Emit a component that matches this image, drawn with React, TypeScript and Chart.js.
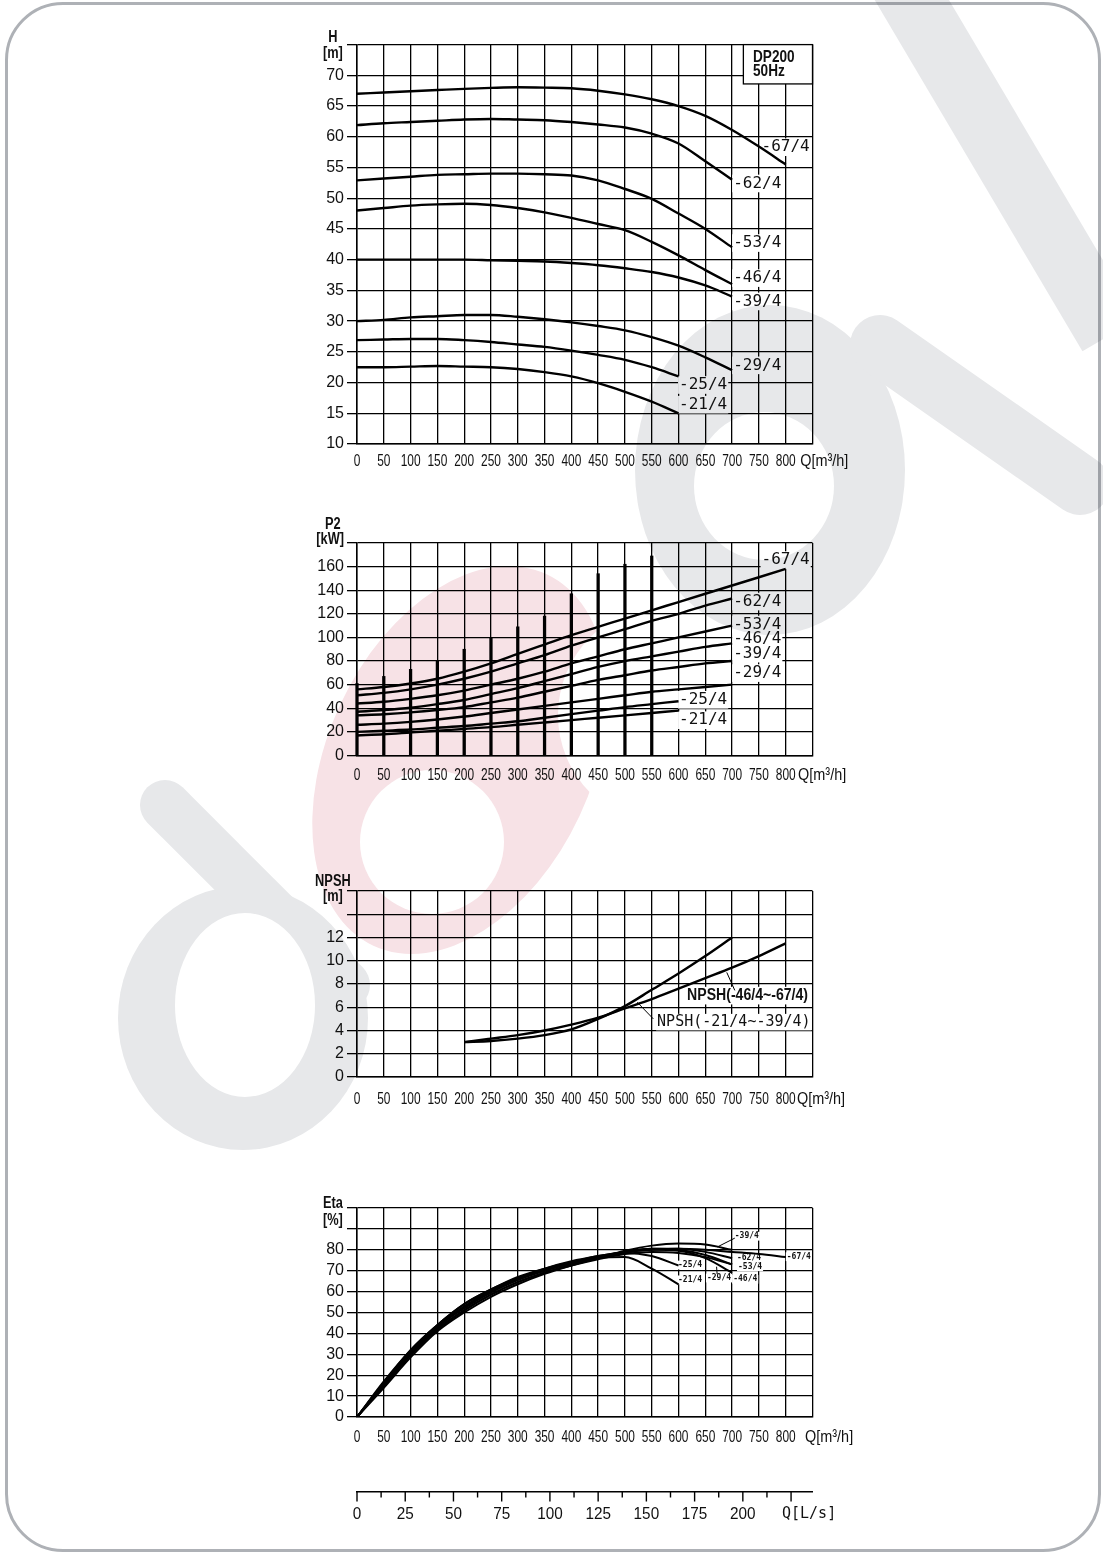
import React, { useEffect, useRef } from 'react';
import { Chart, registerables } from 'chart.js';

Chart.register(...registerables);

// ---------------- data ----------------
const flowQ = [0, 50, 100, 150, 200, 250, 300, 350, 400, 450, 500, 550, 600, 650, 700, 750, 800];
const seriesNames = ['-67/4', '-62/4', '-53/4', '-46/4', '-39/4', '-29/4', '-25/4', '-21/4'];

// Head H [m]
const head67 = [67, 67.2, 67.4, 67.6, 67.8, 67.95, 68.05, 68, 67.9, 67.5, 66.9, 66.1, 65, 63.4, 61.1, 58.4, 55.5];
const head62 = [61.9, 62.2, 62.4, 62.6, 62.8, 62.9, 62.8, 62.7, 62.4, 62, 61.5, 60.5, 58.9, 56, 53];
const head53 = [52.9, 53.2, 53.5, 53.8, 53.9, 54, 54, 53.9, 53.7, 52.9, 51.5, 49.9, 47.5, 45, 42];
const head46 = [48, 48.4, 48.8, 49, 49.1, 48.9, 48.4, 47.7, 46.8, 45.8, 44.8, 42.9, 40.7, 38.3, 36];
const head39 = [40, 40, 40, 40, 40, 39.9, 39.8, 39.7, 39.45, 39.1, 38.6, 38, 37.1, 35.8, 34];
const head29 = [30, 30.2, 30.6, 30.8, 31, 31, 30.7, 30.3, 29.8, 29.2, 28.5, 27.4, 26, 24.1, 22];
const head25 = [26.9, 27, 27.1, 27.1, 26.9, 26.6, 26.2, 25.8, 25.2, 24.5, 23.7, 22.5, 21];
const head21 = [22.5, 22.5, 22.6, 22.7, 22.6, 22.5, 22.2, 21.7, 21, 19.9, 18.5, 16.9, 15];

// Power P2 [kW]
const p2_67 = [56, 58, 61, 65, 71, 78, 86, 94, 102, 109, 116, 123, 130, 137, 144, 151, 158];
const p2_62 = [51, 53, 56, 60, 65, 71, 78, 85, 93, 100, 107, 114, 120, 127, 133];
const p2_53 = [44, 45.5, 48, 51, 55, 60, 65, 71, 78, 84, 90, 95, 100, 105, 110];
const p2_46 = [37, 38.5, 40.5, 43.5, 47, 52, 57, 63, 69, 75, 80, 84, 88, 92, 95];
const p2_39 = [34, 35, 36.5, 38.5, 41, 45, 49, 54, 59, 64, 68, 72, 75, 78, 80];
const p2_29 = [26, 27, 28.5, 30.5, 33, 36, 39, 42, 45, 48, 51, 54, 56, 58, 60];
const p2_25 = [20, 21, 22, 23.5, 25, 27, 29, 32, 35, 38, 41, 43.5, 46];
const p2_21 = [17, 18, 19.5, 21, 22.5, 24, 26, 28, 30, 32, 34, 36, 38];
const p2Bars = [61, 67, 73, 80, 90, 100, 109, 118, 137, 154, 162, 169];

// NPSH [m] (from Q = 200)
const npshStartIndex = 4;
const npshHigh = [3, 3.3, 3.6, 4.0, 4.5, 5.1, 5.9, 6.7, 7.6, 8.5, 9.4, 10.4, 11.5];
const npshLow = [3, 3.1, 3.3, 3.6, 4.1, 5.0, 6.1, 7.5, 8.9, 10.4, 12];
const npshNames = ['NPSH(-46/4~-67/4)', 'NPSH(-21/4~-39/4)'];

// Efficiency Eta [%]
const eta67 = [0, 16.5, 32, 44, 54, 61, 66.5, 71, 74.5, 77, 79, 80, 80.5, 80, 79, 78, 76.5];
const eta62 = [0, 16, 31, 43.5, 53, 60.5, 66, 70.5, 74, 77, 79, 80.5, 80.5, 79, 76];
const eta53 = [0, 15.5, 30.5, 43, 52, 59.5, 65.5, 70, 73.5, 76.5, 79, 80.5, 80, 77.5, 73];
const eta46 = [0, 15, 30, 42, 51, 58.5, 64.5, 69, 73, 76, 78.5, 80, 79.5, 76, 69];
const eta39 = [0, 14, 28.5, 41, 50, 57.5, 63.5, 68.5, 72.5, 76, 79.5, 82, 83, 82.5, 80];
const eta29 = [0, 15, 29.5, 42, 51, 58.5, 64.5, 69, 72.5, 75.5, 78, 79, 78.5, 76.5, 73];
const eta25 = [0, 16, 31, 43, 52.5, 60, 66, 70, 73.5, 76.5, 78.5, 77, 72.5];
const eta21 = [0, 17, 32, 44, 54, 61, 67, 71, 74, 76, 76.5, 71, 63.5];

// Secondary flow axis [L/s]
const lpsMax = 236.11;
const lpsTicks = [0, 12.5, 25, 37.5, 50, 62.5, 75, 87.5, 100, 112.5, 125, 137.5, 150, 162.5, 175, 187.5, 200, 212.5, 225];
const lpsLabels = [0, 25, 50, 75, 100, 125, 150, 175, 200];

// ---------------- layout / annotation placement ----------------
const CANVAS_LEFT = 280;
const CANVAS_W = 600;
const Y_AXIS_W = 77;
const PAD_RIGHT = 67.5;

const geoH = { top: 18, areaTop: 44.6, areaBottom: 444 };
const geoP = { top: 510, areaTop: 543, areaBottom: 755.5 };
const geoN = { top: 858, areaTop: 891, areaBottom: 1077 };
const geoE = { top: 1180, areaTop: 1208, areaBottom: 1417 };
const geoL = { top: 1480, areaTop: 1490.5, areaBottom: 1491.5 };

const headLabelPos = [[755, 58.3], [702, 52.4], [702, 42.7], [702, 37.0], [702, 33.2], [702, 22.8], [601, 19.6], [601, 16.4]];
const p2LabelPos = [[755, 165.5], [702, 130.4], [702, 110.9], [702, 99.2], [702, 86.3], [702, 69.8], [601, 47.2], [601, 29.9]];
const etaLabelPos = [[802, 76.7], [709, 76.2], [711, 71.9], [702, 65.9], [705, 86.5], [653, 66.5], [599, 72.7], [599, 65.6]];

const SANS = "'Liberation Sans', Arial, sans-serif";
const MONO = "'DejaVu Sans Mono', monospace";
const INK = '#111';

const LABEL_FONT = `16px ${MONO}`;
const TITLE_FONT = `bold 16px ${SANS}`;
const TITLE_SX = 0.8;
const XTICK_FONT = `17px ${SANS}`;
const XTICK_SX = 0.7;
const Q_FONT = `17px ${SANS}`;
const Q_SX = 0.85;
const ETA_LABEL_FONT = `bold 8px ${MONO}`;

type Txt = { text: string; x: number; y?: number; dy?: number; font: string; align?: CanvasTextAlign; bg?: boolean; sx?: number };
type Seg = { x1: number; y1: number; x2: number; y2: number };
type Box = { x1: number; y1: number; x2: number; y2: number };
type XLabels = { values?: number[]; maxValue?: number; font: string; sx: number; dy: number };
type Overlay = { labels?: Txt[]; texts?: Txt[]; segs?: Seg[]; boxes?: Box[]; tickMarks?: { v: number; len: number }[]; xLabels?: XLabels };

function makeOverlay(cfg: Overlay) {
  const drawText = (chart: any, t: Txt) => {
    const ctx = chart.ctx;
    const X = chart.scales.x.getPixelForValue(t.x);
    const Y = t.y !== undefined ? chart.scales.y.getPixelForValue(t.y) : chart.chartArea.bottom + (t.dy ?? 0);
    const sx = t.sx ?? 1;
    ctx.save();
    ctx.font = t.font;
    ctx.textAlign = t.align ?? 'left';
    ctx.textBaseline = 'middle';
    ctx.translate(X, Y);
    ctx.scale(sx, 1);
    if (t.bg) {
      const w = ctx.measureText(t.text).width;
      const m = t.font.match(/(\d+(?:\.\d+)?)px/);
      const fs = m ? parseFloat(m[1]) : 12;
      const left = t.align === 'center' ? -w / 2 : t.align === 'right' ? -w : 0;
      ctx.fillStyle = '#fff';
      ctx.fillRect(left - 1, -fs * 0.55, w + 2, fs * 1.1);
    }
    ctx.fillStyle = INK;
    ctx.fillText(t.text, 0, 0);
    ctx.restore();
  };
  return {
    id: 'overlay',
    beforeDatasetsDraw(chart: any) {
      const ctx = chart.ctx;
      const xs = chart.scales.x;
      const ys = chart.scales.y;
      (cfg.boxes || []).forEach((b) => {
        const x1 = xs.getPixelForValue(b.x1);
        const x2 = xs.getPixelForValue(b.x2);
        const y1 = ys.getPixelForValue(b.y1);
        const y2 = ys.getPixelForValue(b.y2);
        ctx.save();
        ctx.fillStyle = '#fff';
        ctx.fillRect(x1, y1, x2 - x1, y2 - y1);
        ctx.strokeStyle = '#000';
        ctx.lineWidth = 1.3;
        ctx.strokeRect(x1, y1, x2 - x1, y2 - y1);
        ctx.restore();
      });
      (cfg.labels || []).forEach((t) => drawText(chart, t));
    },
    afterDraw(chart: any) {
      const ctx = chart.ctx;
      const xs = chart.scales.x;
      const ys = chart.scales.y;
      (cfg.segs || []).forEach((s) => {
        ctx.save();
        ctx.strokeStyle = '#000';
        ctx.lineWidth = 1;
        ctx.beginPath();
        ctx.moveTo(xs.getPixelForValue(s.x1), ys.getPixelForValue(s.y1));
        ctx.lineTo(xs.getPixelForValue(s.x2), ys.getPixelForValue(s.y2));
        ctx.stroke();
        ctx.restore();
      });
      (cfg.tickMarks || []).forEach((tm) => {
        const X = xs.getPixelForValue(tm.v);
        const B = chart.chartArea.bottom;
        ctx.save();
        ctx.strokeStyle = '#000';
        ctx.lineWidth = 1.4;
        ctx.beginPath();
        ctx.moveTo(X, B);
        ctx.lineTo(X, B + tm.len);
        ctx.stroke();
        ctx.restore();
      });
      if (cfg.xLabels) {
        const xl = cfg.xLabels;
        const vals: number[] = xl.values ?? xs.ticks.map((t: any) => t.value).filter((v: number) => v <= (xl.maxValue ?? Infinity));
        vals.forEach((v) =>
          drawText(chart, { text: String(v), x: v, dy: xl.dy, font: xl.font, sx: xl.sx, align: 'center' })
        );
      }
      (cfg.texts || []).forEach((t) => drawText(chart, t));
    },
  };
}

const pts = (vals: number[], start = 0) => vals.map((v, i) => ({ x: flowQ[start + i], y: v }));
const lineDs = (vals: number[], start = 0, width = 2.2) => ({
  type: 'line',
  data: pts(vals, start),
  borderColor: '#000',
  borderWidth: width,
  pointRadius: 0,
  fill: false,
  cubicInterpolationMode: 'monotone',
});

const canvasHeight = (g: any) => Math.ceil(g.areaBottom - g.top + 38);

function buildConfig(g: any, y: { min: number; max: number; step: number; labelMax: number }, xLabelDy: number, datasets: any[], overlay: Overlay) {
  const height = canvasHeight(g);
  const xAxisH = g.top + height - g.areaBottom;
  return {
    type: 'line',
    data: { datasets },
    options: {
      responsive: false,
      maintainAspectRatio: false,
      animation: false,
      events: [],
      layout: { padding: { left: 0, right: PAD_RIGHT, top: g.areaTop - g.top, bottom: 0 } },
      plugins: { legend: { display: false }, tooltip: { enabled: false } },
      scales: {
        x: {
          type: 'linear',
          min: 0,
          max: 850,
          offset: false,
          ticks: { stepSize: 50, autoSkip: false, maxRotation: 0, display: false },
          grid: { color: '#000', lineWidth: 1.3, drawTicks: false, offset: false },
          border: { color: '#000', width: 1.5 },
          afterFit: (s: any) => {
            s.height = xAxisH;
          },
        },
        y: {
          type: 'linear',
          min: y.min,
          max: y.max,
          ticks: {
            stepSize: y.step,
            autoSkip: false,
            padding: 3,
            color: INK,
            font: { family: SANS, size: 16 },
            callback: (v: any) => (v <= y.labelMax ? String(v) : ''),
          },
          grid: { color: '#000', lineWidth: 1.3, drawTicks: true, tickLength: 10 },
          border: { color: '#000', width: 1.5 },
          afterFit: (s: any) => {
            s.width = Y_AXIS_W;
          },
        },
      },
    },
    plugins: [
      makeOverlay({
        ...overlay,
        xLabels: { maxValue: 800, font: XTICK_FONT, sx: XTICK_SX, dy: xLabelDy },
      }),
    ],
  };
}

const seriesLabels = (pos: number[][], font: string): Txt[] =>
  seriesNames.map((n, i) => ({ text: n, x: pos[i][0], y: pos[i][1], font, bg: true }));

function ChartBox({ geo, make }: { geo: any; make: () => any }) {
  const ref = useRef<HTMLCanvasElement>(null);
  const h = canvasHeight(geo);
  useEffect(() => {
    const chart = new Chart(ref.current as HTMLCanvasElement, make());
    return () => chart.destroy();
  }, []);
  return (
    <canvas
      ref={ref}
      width={CANVAS_W}
      height={h}
      style={{ position: 'absolute', left: CANVAS_LEFT, top: geo.top, width: CANVAS_W, height: h }}
    />
  );
}

const makeHead = () =>
  buildConfig(
    geoH,
    { min: 10, max: 75, step: 5, labelMax: 70 },
    17.5,
    [head67, head62, head53, head46, head39, head29, head25, head21].map((a) => lineDs(a, 0, 2.4)),
    {
      boxes: [{ x1: 721, x2: 850, y1: 75, y2: 68.6 }],
      labels: seriesLabels(headLabelPos, LABEL_FONT),
      texts: [
        { text: 'DP200', x: 739, y: 72.9, font: `bold 17px ${SANS}`, sx: 0.8 },
        { text: '50Hz', x: 739, y: 70.6, font: `bold 17px ${SANS}`, sx: 0.8 },
        { text: 'H', x: -45, y: 76.2, font: TITLE_FONT, align: 'center', sx: TITLE_SX },
        { text: '[m]', x: -45, y: 73.6, font: TITLE_FONT, align: 'center', sx: TITLE_SX },
        { text: 'Q[m³/h]', x: 827, dy: 17.5, font: Q_FONT, sx: Q_SX },
      ],
    }
  );

const makePower = () =>
  buildConfig(
    geoP,
    { min: 0, max: 180, step: 20, labelMax: 160 },
    20,
    [
      {
        type: 'bar',
        data: p2Bars.map((v, i) => ({ x: flowQ[i], y: v })),
        backgroundColor: '#000',
        borderWidth: 0,
        barThickness: 2.6,
        clip: false,
      },
      ...[p2_67, p2_62, p2_53, p2_46, p2_39, p2_29, p2_25, p2_21].map((a) => lineDs(a, 0, 2.4)),
    ],
    {
      labels: seriesLabels(p2LabelPos, LABEL_FONT),
      texts: [
        { text: 'P2', x: -45, y: 196, font: TITLE_FONT, align: 'center', sx: TITLE_SX },
        { text: '[kW]', x: -50, y: 182.5, font: TITLE_FONT, align: 'center', sx: TITLE_SX },
        { text: 'Q[m³/h]', x: 823, dy: 20, font: Q_FONT, sx: Q_SX },
      ],
    }
  );

const makeNpsh = () =>
  buildConfig(
    geoN,
    { min: 0, max: 16, step: 2, labelMax: 12 },
    22,
    [lineDs(npshHigh, npshStartIndex, 2.4), lineDs(npshLow, npshStartIndex, 2.4)],
    {
      labels: [
        { text: npshNames[0], x: 616, y: 7.0, font: `bold 16px ${SANS}`, bg: true, sx: 0.88 },
        { text: npshNames[1], x: 560, y: 4.72, font: `15px ${MONO}`, bg: true },
      ],
      segs: [
        { x1: 690, y1: 9.0, x2: 705, y2: 7.45 },
        { x1: 523, y1: 6.43, x2: 553, y2: 5.0 },
      ],
      texts: [
        { text: 'NPSH', x: -45, y: 16.77, font: TITLE_FONT, align: 'center', sx: TITLE_SX },
        { text: '[m]', x: -45, y: 15.48, font: TITLE_FONT, align: 'center', sx: TITLE_SX },
        { text: 'Q[m³/h]', x: 821, dy: 22, font: Q_FONT, sx: Q_SX },
      ],
    }
  );

const makeEta = () =>
  buildConfig(
    geoE,
    { min: 0, max: 100, step: 10, labelMax: 80 },
    20.5,
    [eta67, eta62, eta53, eta46, eta39, eta29, eta25, eta21].map((a) => lineDs(a, 0, 2)),
    {
      labels: seriesLabels(etaLabelPos, ETA_LABEL_FONT),
      segs: [
        { x1: 672, y1: 81.3, x2: 705, y2: 85.6 },
        { x1: 671, y1: 71.9, x2: 672, y2: 68.4 },
      ],
      texts: [
        { text: 'Eta', x: -45, y: 101.9, font: TITLE_FONT, align: 'center', sx: TITLE_SX },
        { text: '[%]', x: -45, y: 93.8, font: TITLE_FONT, align: 'center', sx: TITLE_SX },
        { text: 'Q[m³/h]', x: 836, dy: 20.5, font: Q_FONT, sx: Q_SX },
      ],
    }
  );

const makeLps = () => {
  const h = canvasHeight(geoL);
  const xAxisH = geoL.top + h - geoL.areaBottom;
  return {
    type: 'line',
    data: { datasets: [] },
    options: {
      responsive: false,
      maintainAspectRatio: false,
      animation: false,
      events: [],
      layout: { padding: { left: Y_AXIS_W, right: PAD_RIGHT, top: geoL.areaTop - geoL.top, bottom: 0 } },
      plugins: { legend: { display: false }, tooltip: { enabled: false } },
      scales: {
        x: {
          type: 'linear',
          min: 0,
          max: lpsMax,
          ticks: { stepSize: 12.5, autoSkip: false, maxRotation: 0, display: false },
          grid: { display: false },
          border: { display: true, color: '#000', width: 1.5 },
          afterFit: (s: any) => {
            s.height = xAxisH;
          },
        },
        y: { display: false, min: 0, max: 1 },
      },
    },
    plugins: [
      makeOverlay({
        tickMarks: lpsTicks.map((v) => ({ v, len: v % 25 === 0 ? 10 : 6 })),
        xLabels: { values: lpsLabels, font: `17px ${SANS}`, sx: 0.9, dy: 22.5 },
        texts: [{ text: 'Q[L/s]', x: 220.3, dy: 22.5, font: `15px ${MONO}` }],
      }),
    ],
  };
};

function Watermark() {
  const grey = '#e7e8ea';
  return (
    <svg
      width={1103}
      height={1554}
      style={{ position: 'absolute', left: 0, top: 0, mixBlendMode: 'multiply', pointerEvents: 'none' }}
    >
      <ellipse cx={460} cy={760} rx={132} ry={205} transform="rotate(25 460 760)" fill="#f7e2e6" />
      <circle cx={668} cy={715} r={110} fill="#fff" />
      <circle cx={432} cy={842} r={72} fill="#fff" />
      <ellipse cx={243} cy={1018} rx={125} ry={132} fill={grey} />
      <line x1={165} y1={805} x2={345} y2={985} stroke={grey} strokeWidth={50} strokeLinecap="round" />
      <ellipse cx={245} cy={1005} rx={70} ry={92} fill="#fff" />
      <ellipse cx={770} cy={470} rx={135} ry={165} fill={grey} />
      <ellipse cx={764} cy={486} rx={70} ry={74} fill="#fff" />
      <line x1={900} y1={-20} x2={1110} y2={335} stroke={grey} strokeWidth={64} />
      <line x1={880} y1={345} x2={1080} y2={485} stroke={grey} strokeWidth={60} strokeLinecap="round" />
    </svg>
  );
}

export default function App() {
  return (
    <div
      style={{
        position: 'absolute',
        left: 0,
        top: 0,
        width: 1103,
        height: 1554,
        background: '#fff',
        overflow: 'hidden',
      }}
    >
      <div
        style={{
          position: 'absolute',
          left: 5,
          top: 2,
          width: 1096,
          height: 1550,
          boxSizing: 'border-box',
          border: '3px solid #aeb1b6',
          borderRadius: 58,
        }}
      />
      <ChartBox geo={geoH} make={makeHead} />
      <ChartBox geo={geoP} make={makePower} />
      <ChartBox geo={geoN} make={makeNpsh} />
      <ChartBox geo={geoE} make={makeEta} />
      <ChartBox geo={geoL} make={makeLps} />
      <Watermark />
    </div>
  );
}
